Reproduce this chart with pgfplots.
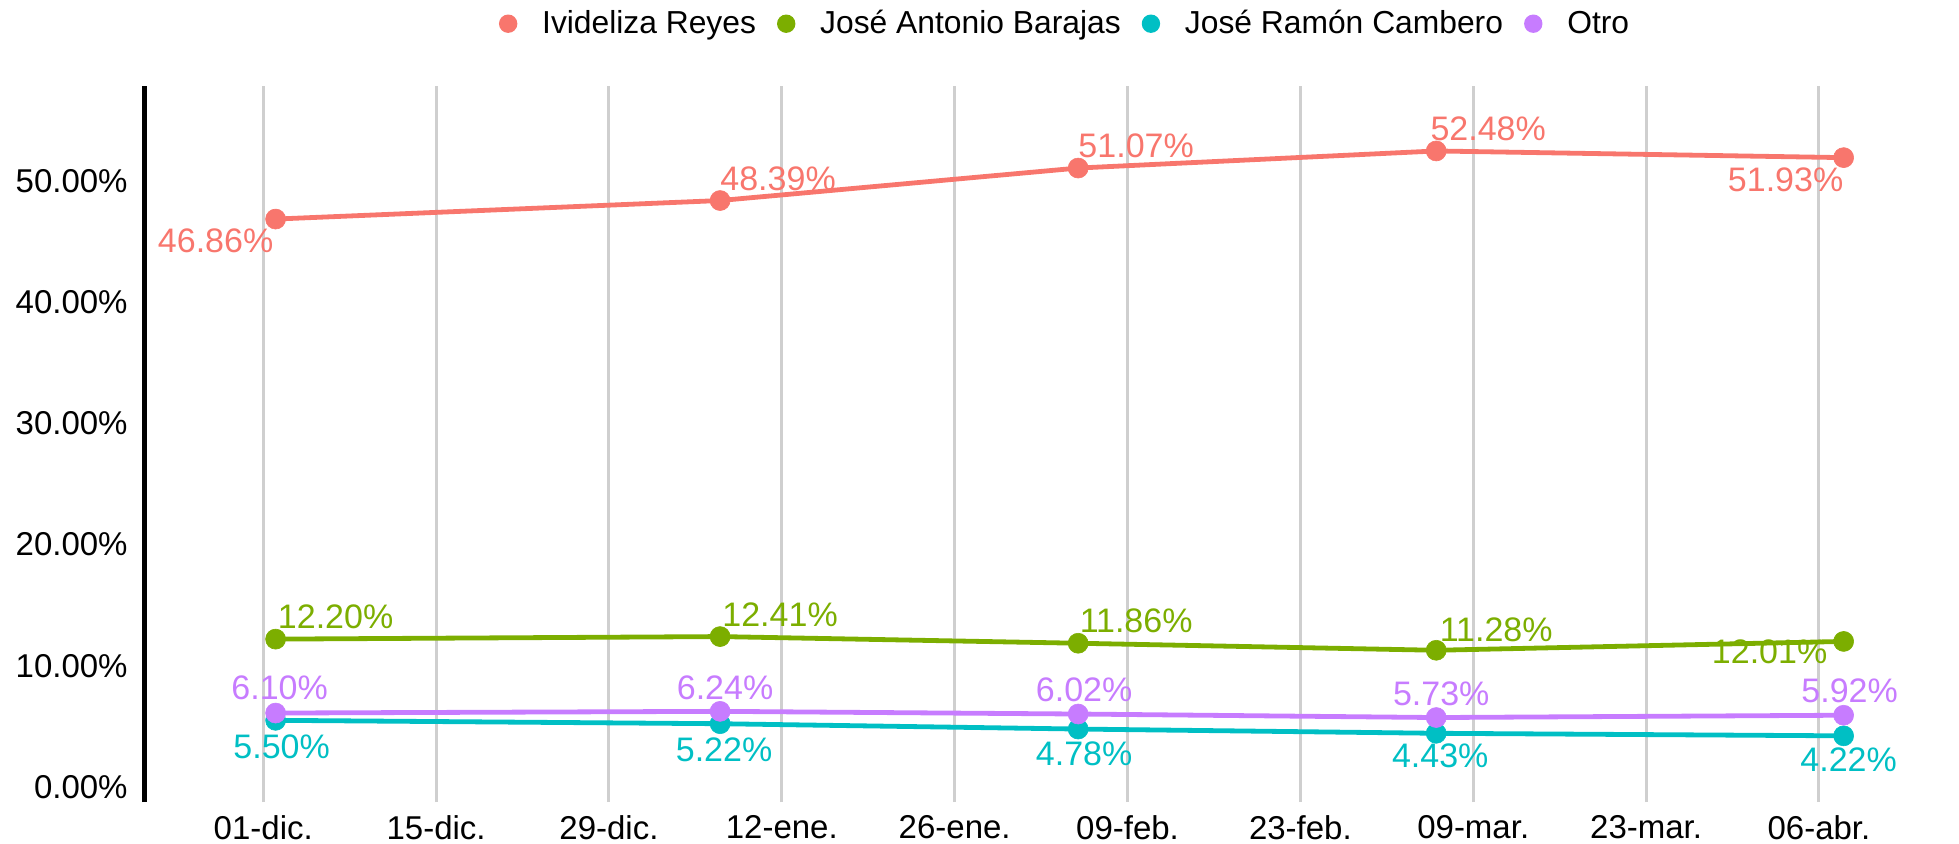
\documentclass[border=0pt]{standalone}
\usepackage{fontspec}
\setmainfont{Liberation Sans}
\usepackage{pgfplots}
\usepackage{pgfplotstable}
\pgfplotsset{compat=1.18}
\definecolor{cRed}{HTML}{F8766D}
\definecolor{cGreen}{HTML}{7CAE00}
\definecolor{cCyan}{HTML}{00BFC4}
\definecolor{cPurple}{HTML}{C77CFF}
\definecolor{gridgray}{HTML}{CFCFCF}

% x = days since 01-dic.; dx, dy = label offsets in pt
\pgfplotstableread{
x y dx dy
1 46.86 -30 -11
37 48.39 29 11
66 51.07 29 11
95 52.48 26 11
128 51.93 -29 -11
}\reyes
\pgfplotstableread{
x y dx dy
1 12.20 30 11
37 12.41 30 11
66 11.86 29 11
95 11.28 30 10
128 12.01 -37 -5
}\barajas
\pgfplotstableread{
x y dx dy
1 5.50 3 -13
37 5.22 2 -13
66 4.78 3 -12.5
95 4.43 2 -11.5
128 4.22 2.5 -12
}\cambero
\pgfplotstableread{
x y dx dy
1 6.10 2 12.5
37 6.24 2.5 12
66 6.02 3 12
95 5.73 2.5 12
128 5.92 3 12
}\otro

\pgfplotsset{
  lbl/.style={
    color=#1, line width=2.4pt, mark=*, mark size=5pt,
    mark options={line width=0.3pt},
    point meta=y,
    nodes near coords={\pgfmathprintnumber[fixed,fixed zerofill,precision=2]{\pgfplotspointmeta}\%},
    visualization depends on={\thisrow{dx} \as \dx},
    visualization depends on={\thisrow{dy} \as \dy},
    every node near coord/.append style={anchor=center, xshift=\dx pt, yshift=\dy pt,
      font=\fontsize{17}{20}\selectfont, text=#1, inner sep=0pt},
  },
}

\begin{document}
\begin{tikzpicture}
\path[use as bounding box] (0,0) rectangle (979.5pt,421.5pt);
\begin{axis}[
  at={(72pt,20.5pt)}, anchor=south west,
  scale only axis, width=899.2pt, height=358pt,
  xmin=-9.66, xmax=136, ymin=-1.24, ymax=57.84,
  clip=false,
  axis lines*=left,
  x axis line style={draw=none},
  y axis line style={line width=2.5pt, black, -},
  xtick={0,14,28,42,56,70,84,98,112,126},
  xticklabels={01-dic., 15-dic., 29-dic., 12-ene., 26-ene., 09-feb., 23-feb., 09-mar., 23-mar., 06-abr.},
  ytick={0,10,20,30,40,50},
  yticklabels={0.00\%,10.00\%,20.00\%,30.00\%,40.00\%,50.00\%},
  /pgf/number format/assume math mode=true,
  major tick length=0pt,
  xmajorgrids,
  major grid style={gridgray, line width=1.5pt},
  xticklabel style={font=\fontsize{16.5}{19}\selectfont, inner sep=0pt, anchor=north, yshift=-6.5pt},
  yticklabel style={font=\fontsize{16.5}{19}\selectfont, inner sep=0pt, anchor=east, xshift=-8pt},
  legend columns=4,
  legend style={draw=none, fill=none, at={(0.5116,1.087)}, anchor=center,
    font=\fontsize{15.9}{18}\selectfont,
    nodes={inner sep=0pt},
    /tikz/every even column/.append style={column sep=10.5pt}},
  legend image code/.code={\fill[draw=none] (0pt,0pt) circle (4.6pt); \path[draw=none] (-4.6pt,0pt) -- (17pt,0pt);},
]
\addplot[lbl=cRed] table[x=x,y=y] {\reyes};
\addlegendentry{Ivideliza Reyes}
\addplot[lbl=cGreen] table[x=x,y=y] {\barajas};
\addlegendentry{José Antonio Barajas}
\addplot[lbl=cCyan] table[x=x,y=y] {\cambero};
\addlegendentry{José Ramón Cambero}
\addplot[lbl=cPurple] table[x=x,y=y] {\otro};
\addlegendentry{Otro}
\end{axis}
\end{tikzpicture}
\end{document}
